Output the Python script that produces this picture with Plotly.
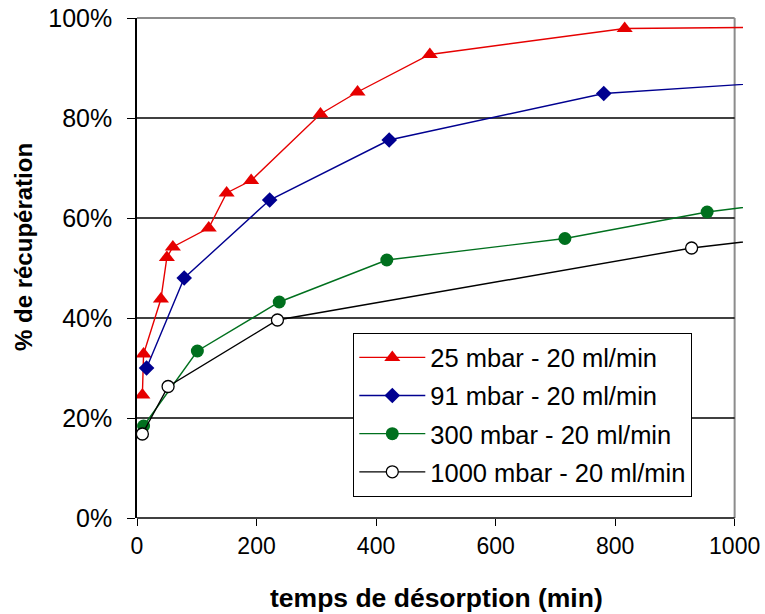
import plotly.graph_objects as go

# Data (time in min, recovery in %)
t_25 = [9, 11, 40, 50, 60, 120, 150, 191, 307, 369, 490, 816, 1100]
r_25 = [24.6, 32.8, 43.8, 52.1, 54.2, 58.0, 65.0, 67.5, 80.8, 85.2, 92.7, 97.9, 98.2]

t_91 = [16, 79, 222, 422, 781, 1100]
r_91 = [30.0, 48.0, 63.6, 75.6, 84.9, 87.4]

t_300 = [11, 101, 238, 418, 716, 954, 1100]
r_300 = [18.4, 33.4, 43.2, 51.6, 55.9, 61.2, 63.4]

t_1000 = [9, 52, 235, 928, 1100]
r_1000 = [16.8, 26.3, 39.6, 54.0, 56.4]

x_ticks = [0, 200, 400, 600, 800, 1000]
y_ticks = [0, 20, 40, 60, 80, 100]
y_grid = [20, 40, 60, 80]

FONT = "Liberation Sans, Arial, sans-serif"
X_MAX = 1014  # axis runs slightly past 1000 so the lines overshoot the frame

fig = go.Figure()
series = [
    ("25 mbar - 20 ml/min", t_25, r_25, "#E60000", dict(symbol="triangle-up", size=14, color="#E60000")),
    ("91 mbar - 20 ml/min", t_91, r_91, "#000090", dict(symbol="diamond", size=12, color="#000090")),
    ("300 mbar - 20 ml/min", t_300, r_300, "#00701E", dict(symbol="circle", size=13, color="#00701E")),
    ("1000 mbar - 20 ml/min", t_1000, r_1000, "#000000",
     dict(symbol="circle", size=12, color="#FFFFFF", line=dict(color="#000000", width=1.3))),
]
for i, (name, xs, ys, col, mk) in enumerate(series):
    fig.add_trace(go.Scatter(
        x=xs, y=ys, name=name, mode="lines+markers",
        line=dict(color=col, width=1.4), marker=mk, legendgroup=f"g{i}",
    ))

xf = 1000 / X_MAX
shapes = []
for g in y_grid:
    shapes.append(dict(type="line", xref="x", yref="y", x0=0, x1=1000, y0=g, y1=g,
                       line=dict(color="black", width=1.5), layer="below"))
# frame (top and right grey, bottom black)
shapes.append(dict(type="line", xref="paper", yref="paper", x0=0, x1=xf, y0=1, y1=1,
                   line=dict(color="#8c8c8c", width=2), layer="below"))
shapes.append(dict(type="line", xref="paper", yref="paper", x0=xf, x1=xf, y0=0, y1=1,
                   line=dict(color="#8c8c8c", width=2), layer="below"))
shapes.append(dict(type="line", xref="paper", yref="paper", x0=0, x1=xf, y0=0, y1=0,
                   line=dict(color="black", width=1.5), layer="above"))

annotations = [
    dict(text="<b>temps de désorption (min)</b>", xref="paper", yref="paper",
         x=0.495, y=-0.16, xanchor="center", yanchor="middle", showarrow=False,
         font=dict(family=FONT, size=26.5, color="black")),
    dict(text="<b>% de récupération</b>", xref="paper", yref="paper",
         x=(24 - 137) / 606, y=(518 - 247) / 500, xanchor="center", yanchor="middle",
         textangle=-90, showarrow=False,
         font=dict(family=FONT, size=24, color="black")),
]

fig.update_layout(
    width=765, height=614,
    margin=dict(l=137, r=22, t=18, b=96),
    paper_bgcolor="white", plot_bgcolor="white",
    font=dict(family=FONT, color="black"),
    shapes=shapes,
    annotations=annotations,
    showlegend=True,
    legend=dict(
        x=(353 - 137) / 606, y=(518 - 333) / 500, xanchor="left", yanchor="top",
        bordercolor="black", borderwidth=1.3, bgcolor="white",
        font=dict(family=FONT, size=25.5, color="black"),
        tracegroupgap=2, itemwidth=66,
    ),
    xaxis=dict(
        range=[0, X_MAX], tickvals=x_ticks, ticktext=[str(v) for v in x_ticks],
        ticks="outside", ticklen=7, tickwidth=1.3, tickcolor="black",
        showgrid=False, zeroline=False, showline=False, automargin=False,
        tickfont=dict(family=FONT, size=23, color="black"),
    ),
    yaxis=dict(
        range=[0, 100], tickvals=y_ticks, ticktext=[f"{v}%" for v in y_ticks],
        ticks="outside", ticklen=8, tickwidth=1.3, tickcolor="black",
        showgrid=False, zeroline=False, showline=True, linecolor="black", linewidth=1.5,
        automargin=False, ticklabelstandoff=10,
        tickfont=dict(family=FONT, size=25, color="black"),
    ),
)

fig.write_html("out.html", config={"displayModeBar": False},
               post_script="document.body.style.margin='0';")
